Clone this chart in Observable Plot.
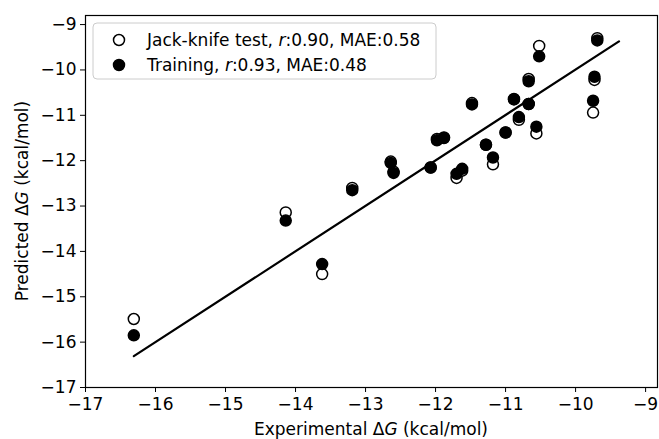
<!DOCTYPE html>
<html><head><meta charset="utf-8">
<script src="https://cdn.jsdelivr.net/npm/d3@7"></script>
<script src="https://cdn.jsdelivr.net/npm/@observablehq/plot@0.6"></script>
<style>body{margin:0;background:#fff;} svg{display:block;}</style>
</head><body><div id="chart"></div>
<script>
const expX   = [-16.31,-14.14,-13.62,-13.19,-12.64,-12.60,-12.07,-11.98,-11.88,-11.70,-11.62,-11.48,-11.28,-11.18,-11.00,-10.88,-10.81,-10.67,-10.67,-10.56,-10.52,-9.75,-9.73,-9.69];
const jackY  = [-15.49,-13.14,-14.50,-12.60,-12.02,-12.24,-12.15,-11.52,-11.49,-12.38,-12.22,-10.73,-11.65,-12.08,-11.38,-10.64,-11.10,-10.75,-10.20,-11.40,-9.47,-10.94,-10.22,-9.30];
const trainY = [-15.85,-13.32,-14.28,-12.65,-12.05,-12.27,-12.15,-11.55,-11.50,-12.29,-12.18,-10.76,-11.65,-11.93,-11.38,-10.65,-11.04,-10.75,-10.25,-11.25,-9.70,-10.68,-10.15,-9.35];
const lineX = [-16.31, -9.38];
const lineY = [-16.31, -9.37];
const xTicks = [-17,-16,-15,-14,-13,-12,-11,-10,-9];
const yTicks = [-17,-16,-15,-14,-13,-12,-11,-10,-9];
const legendLabels = [["Jack-knife test, ", "r", ":0.90, MAE:0.58"], ["Training, ", "r", ":0.93, MAE:0.48"]];

const jack = expX.map((x,i)=>({x, y: jackY[i]}));
const train = expX.map((x,i)=>({x, y: trainY[i]}));
const line = lineX.map((x,i)=>({x, y: lineY[i]}));
const fmt = d3.format("d");
const W = 659, H = 439;
const mL = 85, mR = 2, mT = 15, mB = 52;
const FS = 17;

const svg = Plot.plot({
  width: W, height: H,
  marginLeft: mL, marginRight: mR, marginTop: mT, marginBottom: mB,
  style: {fontFamily: "DejaVu Sans", fontSize: FS + "px", color: "#000", background: "#fff"},
  x: {domain: [-17, -8.83], ticks: xTicks, tickFormat: fmt, label: null},
  y: {domain: [-17, -8.8], ticks: yTicks, tickFormat: fmt, label: null},
  marks: [
    Plot.frame({stroke: "#000", strokeWidth: 1.2}),
    Plot.axisX({ticks: xTicks, tickFormat: fmt, tickSize: 5, tickPadding: 5, label: null, fontSize: FS}),
    Plot.axisY({ticks: yTicks, tickFormat: fmt, tickSize: 5, tickPadding: 4, label: null, fontSize: FS}),
    Plot.line(line, {x: "x", y: "y", stroke: "#000", strokeWidth: 2.2}),
    Plot.dot(jack, {x: "x", y: "y", r: 5.5, fill: "#fff", stroke: "#000", strokeWidth: 1.5}),
    Plot.dot(train, {x: "x", y: "y", r: 5.5, fill: "#000", stroke: "#000", strokeWidth: 1.5})
  ]
});
document.getElementById("chart").appendChild(svg);

const s = d3.select(svg);
// axis labels
const xl = s.append("text").attr("x", mL + (W - mL - mR)/2).attr("y", H - 4)
  .attr("text-anchor", "middle").attr("font-size", FS).attr("font-family", "DejaVu Sans").attr("fill", "#000");
xl.append("tspan").text("Experimental Δ");
xl.append("tspan").attr("font-style", "italic").text("G");
xl.append("tspan").text(" (kcal/mol)");
const yl = s.append("text").attr("transform", `translate(28,${mT + (H - mT - mB)/2}) rotate(-90)`)
  .attr("text-anchor", "middle").attr("font-size", FS).attr("font-family", "DejaVu Sans").attr("fill", "#000");
yl.append("tspan").text("Predicted Δ");
yl.append("tspan").attr("font-style", "italic").text("G");
yl.append("tspan").text(" (kcal/mol)");

// legend
const lg = s.append("g");
lg.append("rect").attr("x", 93).attr("y", 23).attr("width", 343).attr("height", 56).attr("rx", 4)
  .attr("fill", "#fff").attr("fill-opacity", 0.8).attr("stroke", "#ccc").attr("stroke-width", 1);
legendLabels.forEach((parts, i) => {
  const cy = 40 + i * 25;
  lg.append("circle").attr("cx", 119).attr("cy", cy).attr("r", 5.5)
    .attr("fill", i === 0 ? "#fff" : "#000").attr("stroke", "#000").attr("stroke-width", 1.5);
  const t = lg.append("text").attr("x", 147).attr("y", cy + 6).attr("font-size", FS)
    .attr("text-anchor", "start").attr("font-family", "DejaVu Sans").attr("fill", "#000");
  t.append("tspan").text(parts[0]);
  t.append("tspan").attr("font-style", "italic").text(parts[1]);
  t.append("tspan").text(parts[2]);
});
</script></body></html>
